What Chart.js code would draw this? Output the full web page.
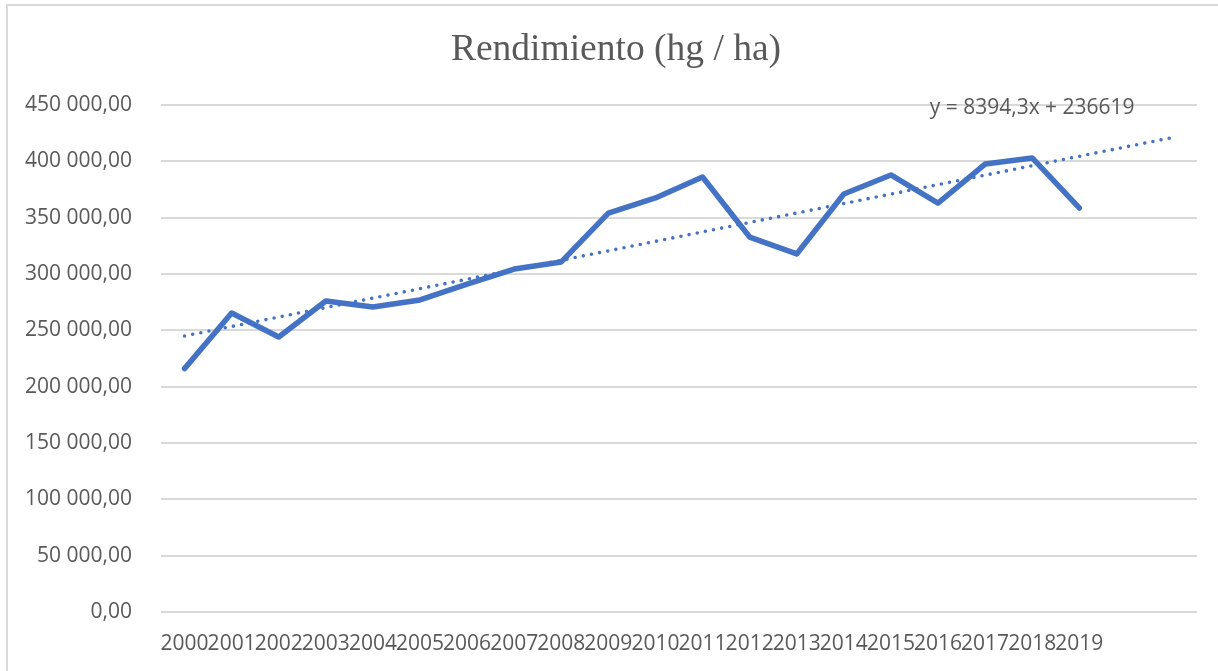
<!DOCTYPE html>
<html>
<head>
<meta charset="utf-8">
<script src="https://cdn.jsdelivr.net/npm/chart.js@4/dist/chart.umd.min.js"></script>
<style>
  html, body { margin: 0; padding: 0; background: #fff; }
  #wrap { position: relative; width: 1218px; height: 671px; }
  #frame { position: absolute; left: 6px; top: 4px; right: -4px; bottom: -4px;
           border-left: 2px solid #d9d9d9; border-top: 2px solid #d9d9d9; }
  canvas { position: absolute; left: 0; top: 0; }
</style>
</head>
<body>
<div id="wrap">
  <div id="frame"></div>
  <canvas id="chart" width="1218" height="671"></canvas>
</div>
<script>
// Years on the category axis (two extra empty slots for the forward trendline)
const years = ['2000','2001','2002','2003','2004','2005','2006','2007','2008','2009',
               '2010','2011','2012','2013','2014','2015','2016','2017','2018','2019','',''];

// Yield in hg/ha
const yieldValues = [216000, 265400, 244100, 276000, 270700, 277000, 291100, 304400,
                     310700, 354100, 367500, 386100, 332800, 317800, 371000, 387900,
                     363000, 397600, 403000, 358600];

// Linear trendline end points (first year and two periods past the last one)
const trendValues = [245013, null, null, null, null, null, null, null, null, null, null,
                     null, null, null, null, null, null, null, null, null, null, 421294];

const chartTitle = 'Rendimiento (hg / ha)';
const trendLabel = 'y = 8394,3x + 236619';

const yTicks = { min: 0, max: 450000, step: 50000 };

const grey = '#595959';
const blue = '#4472C4';

// Number format like "450 000,00"
function fmt(v) {
  const whole = Math.round(v).toString().replace(/\B(?=(\d{3})+(?!\d))/g, ' ');
  return whole + ',00';
}

// Title (centred on the whole frame) and the trendline equation
const textPlugin = {
  id: 'texts',
  afterDatasetsDraw(chart) {
    const { ctx, scales } = chart;
    ctx.save();
    ctx.fillStyle = grey;
    ctx.textAlign = 'center';
    ctx.textBaseline = 'middle';

    ctx.font = '37.5px "Liberation Serif", "Times New Roman", serif';
    ctx.fillText(chartTitle, chart.width / 2 + 7, 50);

    ctx.font = '21px "Open Sans"';
    ctx.fillText(trendLabel, scales.x.getPixelForValue(18), scales.y.getPixelForValue(yTicks.max) + 3);
    ctx.restore();
  }
};

const ctx = document.getElementById('chart').getContext('2d');
new Chart(ctx, {
  type: 'line',
  data: {
    labels: years,
    datasets: [
      {
        label: 'Lineal',
        data: trendValues,
        spanGaps: true,
        borderColor: blue,
        borderWidth: 3.6,
        borderDash: [0, 8.3],
        borderCapStyle: 'round',
        pointRadius: 0,
        tension: 0,
        order: 0
      },
      {
        label: 'Rendimiento',
        data: yieldValues,
        borderColor: blue,
        borderWidth: 5.5,
        borderCapStyle: 'round',
        borderJoinStyle: 'round',
        pointRadius: 0,
        tension: 0,
        order: 1
      }
    ]
  },
  options: {
    responsive: false,
    animation: false,
    layout: { padding: { left: 0, right: 21, top: 105, bottom: 0 } },
    plugins: {
      legend: { display: false },
      tooltip: { enabled: false },
      title: { display: false }
    },
    scales: {
      x: {
        offset: true,
        afterFit(scale) { scale.height = 59; },
        grid: { display: false, drawTicks: false },
        border: { display: false },
        ticks: {
          color: grey,
          font: { family: '"Open Sans"', size: 21 },
          autoSkip: false,
          maxRotation: 0,
          minRotation: 0,
          padding: 19
        }
      },
      y: {
        min: yTicks.min,
        max: yTicks.max,
        afterFit(scale) { scale.width = 161; },
        grid: { color: '#d9d9d9', lineWidth: 2, drawTicks: false },
        border: { display: false },
        ticks: {
          stepSize: yTicks.step,
          color: grey,
          font: { family: '"Open Sans"', size: 21 },
          padding: 29,
          callback: v => fmt(v)
        }
      }
    }
  },
  plugins: [textPlugin]
});
</script>
</body>
</html>
